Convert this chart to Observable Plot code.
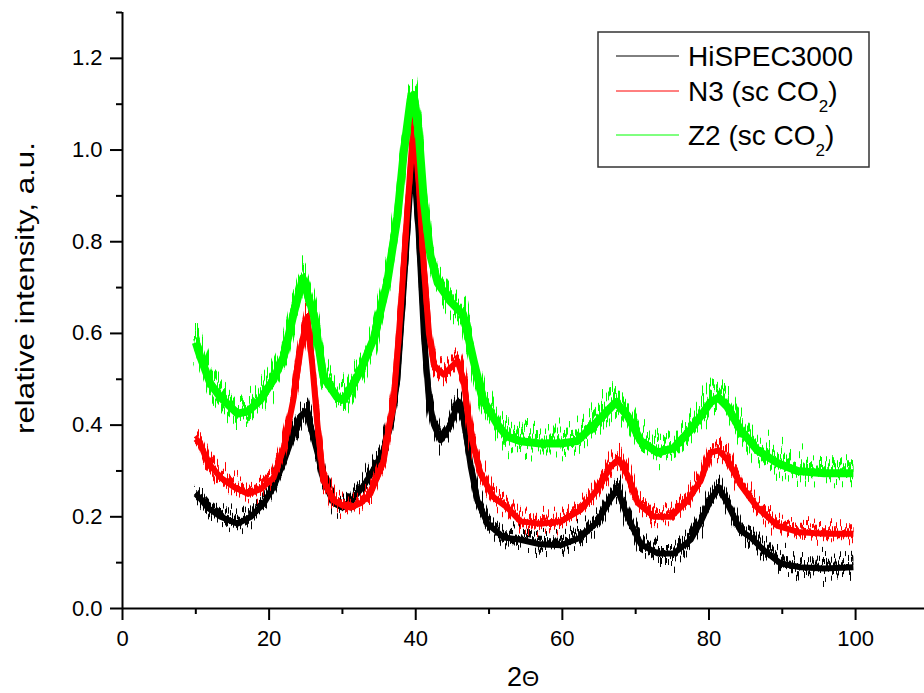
<!DOCTYPE html>
<html>
<head>
<meta charset="utf-8">
<script src="https://cdn.jsdelivr.net/npm/d3@7"></script>
<script src="https://cdn.jsdelivr.net/npm/@observablehq/plot@0.6"></script>
<style>
  html, body { margin: 0; padding: 0; background: #fff; }
  svg { display: block; }
</style>
</head>
<body>
<div id="chart"></div>
<script>
// ---- Data ----
const seriesNames = ["HiSPEC3000", "N3 (sc CO2)", "Z2 (sc CO2)"];

const hispecX = [10, 10.6, 11.6, 13.4, 15.7, 17.5, 19.3, 20.6, 22, 23.3, 24.3, 25, 25.6, 26.6, 27.4, 28.8, 30, 31.5, 33, 34.5, 35.6, 36.6, 37.5, 38.4, 39.3, 39.7, 40.4, 41.1, 41.8, 42.5, 43.4, 44.7, 45.8, 46.5, 47.5, 48.4, 49.8, 52, 54.3, 57, 59.8, 62.5, 64.8, 66.6, 67.5, 68.9, 70.7, 73, 75.2, 77.5, 78.9, 80.2, 81.3, 82.5, 84.3, 85.7, 87.5, 89.8, 92.5, 95.7, 99.7];
const hispecY = [0.25, 0.24, 0.22, 0.20, 0.185, 0.20, 0.23, 0.265, 0.32, 0.38, 0.42, 0.43, 0.40, 0.34, 0.28, 0.23, 0.22, 0.24, 0.27, 0.31, 0.345, 0.40, 0.50, 0.71, 0.93, 0.98, 0.82, 0.60, 0.455, 0.40, 0.367, 0.40, 0.45, 0.42, 0.31, 0.236, 0.185, 0.155, 0.15, 0.14, 0.138, 0.155, 0.19, 0.24, 0.26, 0.20, 0.14, 0.12, 0.12, 0.15, 0.19, 0.236, 0.265, 0.23, 0.17, 0.155, 0.127, 0.098, 0.09, 0.087, 0.09];

const n3X = [10, 10.6, 11.6, 13.4, 15.2, 17.1, 18.8, 20.6, 22, 23.3, 24.3, 25.2, 25.9, 26.6, 27.4, 28.8, 30, 31.1, 32.5, 33.8, 35.6, 37, 37.9, 38.8, 39.7, 40.4, 41.1, 41.8, 42.5, 43.8, 45.7, 46.5, 47.5, 48.8, 50.6, 52.5, 54.3, 57, 59.8, 62.5, 64.8, 66.6, 67.7, 68.9, 70.3, 72.5, 74.8, 77.1, 78.9, 80.2, 81.3, 82.5, 84.3, 86.6, 89.4, 92.1, 95.7, 99.7];
const n3Y = [0.37, 0.36, 0.32, 0.285, 0.265, 0.25, 0.26, 0.285, 0.35, 0.455, 0.565, 0.635, 0.53, 0.40, 0.28, 0.236, 0.225, 0.22, 0.23, 0.25, 0.32, 0.455, 0.64, 0.855, 1.06, 0.93, 0.745, 0.60, 0.53, 0.51, 0.54, 0.50, 0.38, 0.295, 0.243, 0.22, 0.19, 0.185, 0.19, 0.215, 0.26, 0.31, 0.325, 0.29, 0.23, 0.20, 0.20, 0.236, 0.28, 0.34, 0.345, 0.325, 0.27, 0.22, 0.18, 0.167, 0.163, 0.163];

const z2X = [10, 10.6, 12, 13.4, 15.7, 17.1, 18.8, 20.6, 22, 23.3, 24.6, 26.1, 27.4, 29.3, 30.2, 31.5, 32.5, 34.3, 36.1, 37.5, 38.4, 39.3, 39.7, 40.4, 41.1, 42, 43, 44.7, 46.5, 47.9, 49.2, 51.2, 52.5, 54.3, 57, 59.8, 62, 64.3, 66.1, 67.3, 68.9, 70.7, 73, 75.2, 77.5, 78.9, 80.2, 81.3, 82.5, 84.3, 86.6, 89.4, 92.1, 95.7, 99.7];
const z2Y = [0.58, 0.55, 0.49, 0.46, 0.425, 0.43, 0.455, 0.50, 0.55, 0.64, 0.72, 0.64, 0.505, 0.46, 0.455, 0.49, 0.52, 0.59, 0.71, 0.855, 1.0, 1.11, 1.12, 1.04, 0.89, 0.77, 0.71, 0.67, 0.64, 0.54, 0.455, 0.40, 0.375, 0.365, 0.36, 0.36, 0.365, 0.40, 0.43, 0.45, 0.42, 0.365, 0.34, 0.35, 0.39, 0.42, 0.45, 0.46, 0.44, 0.39, 0.345, 0.317, 0.30, 0.295, 0.295];

const xMajorTicks = [0, 20, 40, 60, 80, 100];
const xMinorTicks = [10, 30, 50, 70, 90];
const yMajorTicks = [0, 0.2, 0.4, 0.6, 0.8, 1.0, 1.2];
const yMinorTicks = [0.1, 0.3, 0.5, 0.7, 0.9, 1.1, 1.3];
const colors = ["#000000", "#ff0000", "#00ff00"];

const toRows = (xs, ys, s) => xs.map((x, i) => ({x, y: ys[i], series: s}));
const hispec = toRows(hispecX, hispecY, seriesNames[0]);
const n3 = toRows(n3X, n3Y, seriesNames[1]);
const z2 = toRows(z2X, z2Y, seriesNames[2]);

const font = "'Liberation Sans', Arial, Helvetica, sans-serif";

const lineOpts = (c, w) => ({x: "x", y: "y", stroke: c, strokeWidth: w, strokeLinejoin: "round", strokeLinecap: "butt"});

// per trace: [data, colour, core width, texture width, texture amplitude]
const traces = [
  [hispec, colors[0], 6, 5, 52],
  [n3, colors[1], 6, 5, 52],
  [z2, colors[2], 8, 6, 66]
];

const chart = Plot.plot({
  width: 924,
  height: 693,
  marginLeft: 122,
  marginRight: 0,
  marginTop: 12,
  marginBottom: 85,
  style: {fontFamily: font, fontSize: "22px", background: "#fff", color: "#000", overflow: "visible"},
  x: {domain: [0, 109.4]},
  y: {domain: [0, 1.3]},
  marks: [
    // each trace: a solid core plus two copies that get a noise-like texture
    ...traces.flatMap(([d, c, w, tw]) => [
      Plot.line(d, lineOpts(c, w)),
      Plot.line(d, lineOpts(c, tw)),
      Plot.line(d, lineOpts(c, tw))
    ]),
    Plot.ruleY([0], {x1: 0, x2: 109.4, stroke: "#000", strokeWidth: 2}),
    Plot.ruleX([0], {y1: 0, y2: 1.3, stroke: "#000", strokeWidth: 2}),
    Plot.axisX({ticks: xMajorTicks, tickSize: 12, tickPadding: 10, strokeWidth: 2, fontSize: 22, label: null, tickFormat: d => String(d)}),
    Plot.axisX({ticks: xMinorTicks, tickSize: 6, strokeWidth: 2, label: null, tickFormat: () => ""}),
    Plot.axisY({ticks: yMajorTicks, tickSize: 12, tickPadding: 8, strokeWidth: 2, fontSize: 22, label: null, tickFormat: d3.format(".1f")}),
    Plot.axisY({ticks: yMinorTicks, tickSize: 6, strokeWidth: 2, label: null, tickFormat: () => ""})
  ]
});

document.getElementById("chart").appendChild(chart);

const svg = d3.select(chart);
const sx = chart.scale("x");
const sy = chart.scale("y");

// noise-like texture filters (visual style only)
const defs = svg.insert("defs", ":first-child");
function jitter(id, scale, seed) {
  const f = defs.append("filter").attr("id", id)
    .attr("filterUnits", "userSpaceOnUse")
    .attr("x", 0).attr("y", 0).attr("width", 924).attr("height", 693)
    .attr("color-interpolation-filters", "sRGB");
  f.append("feTurbulence").attr("type", "fractalNoise").attr("baseFrequency", "0.65 0.004")
    .attr("numOctaves", 2).attr("seed", seed).attr("result", "t");
  f.append("feColorMatrix").attr("in", "t").attr("type", "matrix")
    .attr("values", "0 0 0 0 0.5  0 1 0 0 0.04  0 0 0 0 0  0 0 0 0 1").attr("result", "m");
  f.append("feDisplacementMap").attr("in", "SourceGraphic").attr("in2", "m")
    .attr("scale", scale).attr("xChannelSelector", "R").attr("yChannelSelector", "G");
}
const lineGroups = svg.selectAll('g[aria-label="line"]').nodes();
traces.forEach(([, , , , amp], i) => {
  [1, 2].forEach(k => {
    const id = `jit${i}_${k}`;
    jitter(id, amp, 3 + i * 10 + k * 4);
    const g = lineGroups[i * 3 + k];
    if (g) d3.select(g).attr("filter", `url(#${id})`);
  });
});

// axis titles
svg.append("text")
  .attr("x", (sx.range[0] + sx.range[1]) / 2)
  .attr("y", 686)
  .attr("text-anchor", "middle")
  .attr("font-family", font)
  .attr("font-size", 27)
  .attr("fill", "#000")
  .text("2")
  .append("tspan").attr("font-size", 22).text("Θ");

svg.append("text")
  .attr("transform", `translate(34,${(sy.range[0] + sy.range[1]) / 2 - 22}) rotate(-90)`)
  .attr("text-anchor", "middle")
  .attr("font-family", font)
  .attr("font-size", 25)
  .attr("textLength", 292)
  .attr("lengthAdjust", "spacingAndGlyphs")
  .attr("fill", "#000")
  .text("relative intensity, a.u.");

// legend
const lg = svg.append("g").attr("font-family", font).attr("fill", "#000").attr("text-anchor", "start");
lg.append("rect").attr("x", 598).attr("y", 32).attr("width", 271).attr("height", 135)
  .attr("fill", "#fff").attr("stroke", "#333").attr("stroke-width", 1.5);
const entries = [
  {main: "HiSPEC3000", sub: null, tail: "", ly: 56, by: 66},
  {main: "N3 (sc CO", sub: "2", tail: ")", ly: 91, by: 101},
  {main: "Z2 (sc CO", sub: "2", tail: ")", ly: 135, by: 145}
];
entries.forEach((e, i) => {
  lg.append("line").attr("x1", 616).attr("x2", 679).attr("y1", e.ly).attr("y2", e.ly)
    .attr("stroke", colors[i]).attr("stroke-width", 1);
  const t = lg.append("text").attr("x", 688).attr("y", e.by).attr("font-size", 28)
    .attr("text-anchor", "start").text(e.main);
  if (e.sub) {
    t.append("tspan").attr("font-size", 17).attr("dy", 11).text(e.sub);
    t.append("tspan").attr("dy", -11).text(e.tail);
  }
});
</script>
</body>
</html>
